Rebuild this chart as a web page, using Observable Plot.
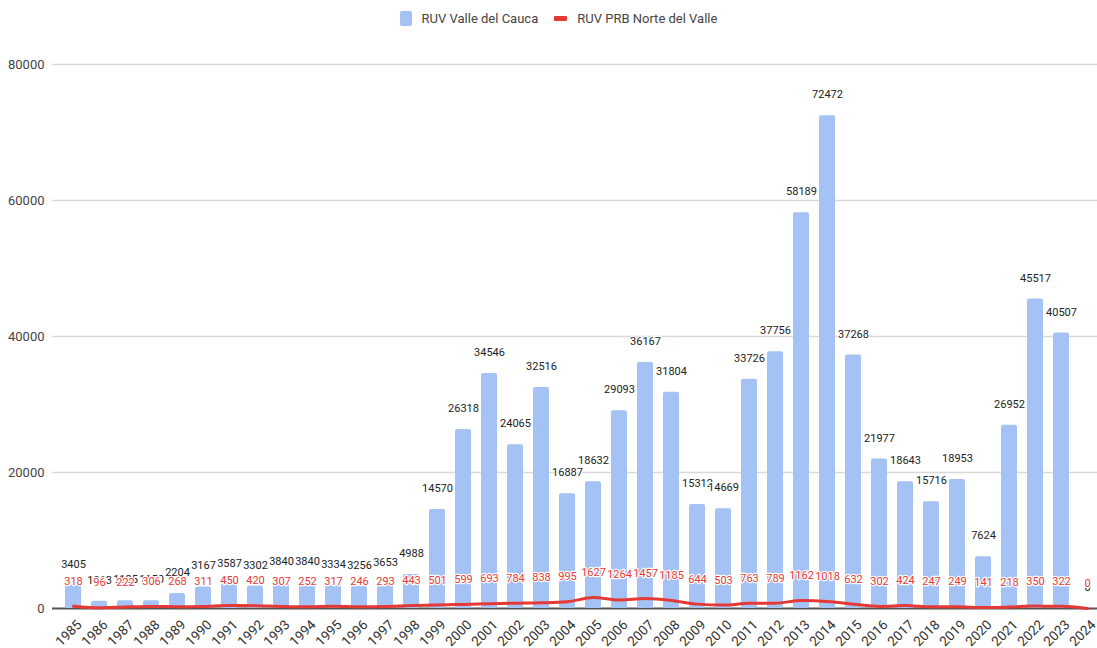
<!DOCTYPE html>
<html>
<head>
<meta charset="utf-8">
<script src="https://cdn.jsdelivr.net/npm/d3@7"></script>
<script src="https://cdn.jsdelivr.net/npm/@observablehq/plot@0.6"></script>
<style>
  html, body { margin: 0; padding: 0; background: #fff; }
  body { width: 1097px; height: 648px; overflow: hidden; font-family: Roboto, "Noto Sans", sans-serif; }
  #legend { height: 36px; display: flex; justify-content: center; align-items: center; gap: 16px; padding-left: 20px; font-size: 13px; color: #444; box-sizing: border-box; }
  .item { display: flex; align-items: center; gap: 10px; }
  .sw-bar { width: 12px; height: 15px; background: #a4c2f4; border-radius: 2px; }
  .sw-line { width: 13px; height: 5px; background: #e53935; border-radius: 1px; }
</style>
</head>
<body>
<div id="legend"></div>
<div id="chart"></div>
<script>
// Registered victims per year
const years = ["1985","1986","1987","1988","1989","1990","1991","1992","1993","1994",
  "1995","1996","1997","1998","1999","2000","2001","2002","2003","2004",
  "2005","2006","2007","2008","2009","2010","2011","2012","2013","2014",
  "2015","2016","2017","2018","2019","2020","2021","2022","2023","2024"];

const valleDelCauca = [3405, 1063, 1125, 1150, 2204, 3167, 3587, 3302, 3840, 3840,
  3334, 3256, 3653, 4988, 14570, 26318, 34546, 24065, 32516, 16887,
  18632, 29093, 36167, 31804, 15312, 14669, 33726, 37756, 58189, 72472,
  37268, 21977, 18643, 15716, 18953, 7624, 26952, 45517, 40507, 0];

const prbNorteDelValle = [318, 96, 222, 306, 268, 311, 450, 420, 307, 252,
  317, 246, 293, 443, 501, 599, 693, 784, 838, 995,
  1627, 1264, 1457, 1185, 644, 503, 763, 789, 1162, 1018,
  632, 302, 424, 247, 249, 141, 218, 350, 322, 0];

const seriesNames = ["RUV Valle del Cauca", "RUV PRB Norte del Valle"];
const yTicks = [0, 20000, 40000, 60000, 80000];

const barColor = "#a4c2f4";
const lineColor = "#e53935";

const rows = years.map((year, i) => ({year, valle: valleDelCauca[i], prb: prbNorteDelValle[i]}));

// legend
const legend = document.getElementById("legend");
legend.innerHTML =
  `<div class="item"><span class="sw-bar"></span><span>${seriesNames[0]}</span></div>` +
  `<div class="item"><span class="sw-line"></span><span>${seriesNames[1]}</span></div>`;

const fmt = d3.format("d");

const chart = Plot.plot({
  width: 1097,
  height: 612,
  marginTop: 28,
  marginBottom: 40,
  marginLeft: 52,
  marginRight: 0,
  style: {fontFamily: "Roboto, 'Noto Sans', sans-serif", background: "#fff"},
  x: {domain: years, range: [52, 1109], paddingInner: 0.37, paddingOuter: 0.361, label: null},
  y: {domain: [0, 80000], label: null},
  marks: [
    Plot.gridY(yTicks.slice(1), {stroke: "#d9d9d9", strokeOpacity: 1, strokeWidth: 1.3}),
    Plot.axisY({ticks: yTicks, tickSize: 0, tickPadding: 8, tickFormat: fmt, fontSize: 13, fill: "#444", label: null}),
    Plot.ruleY([0], {stroke: "#555", strokeWidth: 1.8}),
    Plot.barY(rows, {x: "year", y: "valle", fill: barColor, rx: 2}),
    Plot.line(rows, {x: "year", y: "prb", stroke: lineColor, strokeWidth: 3, curve: "monotone-x"}),
    Plot.text(rows, {x: "year", y: "valle", text: d => fmt(d.valle), dy: -21, fontSize: 11, fill: "#222",
      stroke: "#fff", strokeWidth: 2, paintOrder: "stroke"}),
    Plot.text(rows, {x: "year", y: "prb", text: d => fmt(d.prb), dy: -25, fontSize: 11, fill: lineColor,
      stroke: "#fff", strokeWidth: 2.5, paintOrder: "stroke"}),
    Plot.axisX({tickRotate: -45, tickSize: 0, tickPadding: 6, dx: 6, dy: 8, fontSize: 13.5, fill: "#333", label: null})
  ]
});
document.getElementById("chart").appendChild(chart);
</script>
</body>
</html>
